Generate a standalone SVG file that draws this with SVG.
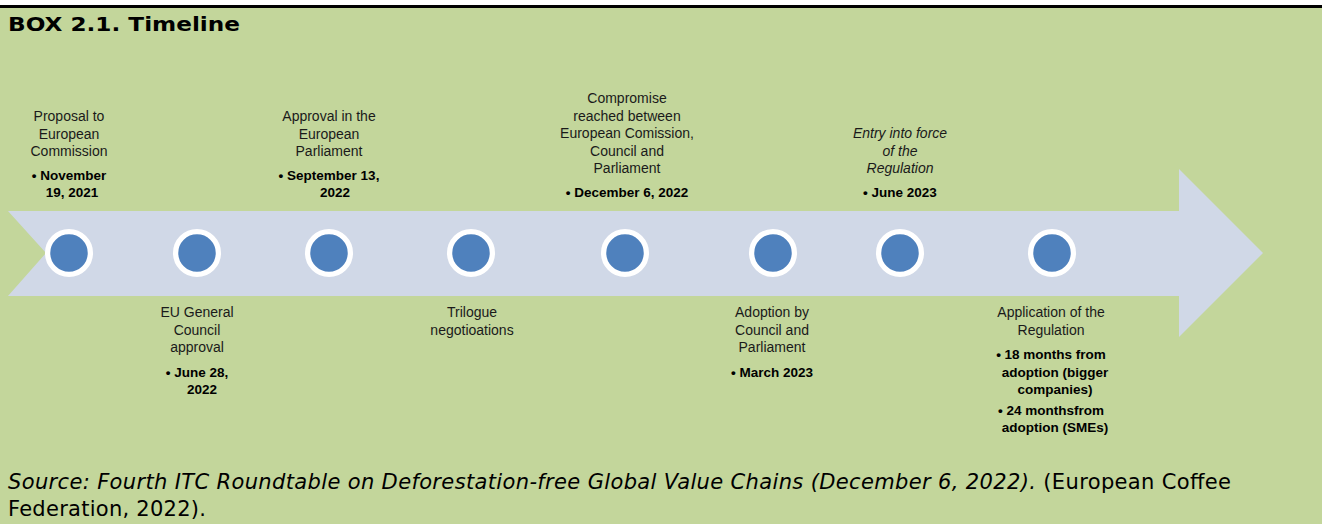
<svg xmlns="http://www.w3.org/2000/svg" width="1322" height="524" viewBox="0 0 1322 524">
  <style>
    .lbl { font-family: "Liberation Sans", Arial, sans-serif; font-size: 14px; fill: #1a1a1a; text-anchor: middle; }
    .b { font-weight: bold; fill: #000; font-size: 13.5px; }
    .i { font-style: italic; }
    .ring { fill: #4F81BD; stroke: #FFFFFF; stroke-width: 5.3; }
    .src { font-family: "DejaVu Sans", Verdana, sans-serif; font-size: 21px; fill: #000; }
  </style>

  <!-- box background and top rule -->
  <rect x="0" y="0" width="1322" height="524" fill="#FFFFFF"/>
  <rect x="0" y="7" width="1322" height="517" fill="#C3D69B"/>
  <rect x="0" y="5" width="1322" height="3" fill="#000000"/>

  <text x="8" y="31" font-family="'DejaVu Sans', Verdana, sans-serif" font-size="20" font-weight="bold" fill="#000" textLength="232" lengthAdjust="spacingAndGlyphs">BOX 2.1. Timeline</text>

  <!-- timeline arrow -->
  <g id="connectors">
    <polygon points="8,211 1179,211 1179,169 1263,253 1179,337 1179,296 8,296 46,253" fill="#D0D8E7"/>
  </g>

  <!-- milestones -->
  <g id="m1">
    <circle class="ring" cx="69" cy="253" r="21.4"/>
    <text class="lbl" x="69" y="121">Proposal to</text>
    <text class="lbl" x="69" y="138.5">European</text>
    <text class="lbl" x="69" y="156">Commission</text>
    <text class="lbl b" x="69" y="180">• November</text>
    <text class="lbl b" x="72" y="197">19, 2021</text>
  </g>
  <g id="m2">
    <circle class="ring" cx="197" cy="253" r="21.4"/>
    <text class="lbl" x="197" y="317">EU General</text>
    <text class="lbl" x="197" y="334.5">Council</text>
    <text class="lbl" x="197" y="352">approval</text>
    <text class="lbl b" x="197" y="377">• June 28,</text>
    <text class="lbl b" x="202" y="394">2022</text>
  </g>
  <g id="m3">
    <circle class="ring" cx="329" cy="253" r="21.4"/>
    <text class="lbl" x="329" y="121">Approval in the</text>
    <text class="lbl" x="329" y="138.5">European</text>
    <text class="lbl" x="329" y="156">Parliament</text>
    <text class="lbl b" x="329" y="180">• September 13,</text>
    <text class="lbl b" x="335" y="197">2022</text>
  </g>
  <g id="m4">
    <circle class="ring" cx="471" cy="253" r="21.4"/>
    <text class="lbl" x="472" y="317">Trilogue</text>
    <text class="lbl" x="472" y="334.5">negotioations</text>
  </g>
  <g id="m5">
    <circle class="ring" cx="625" cy="253" r="21.4"/>
    <text class="lbl" x="627" y="103">Compromise</text>
    <text class="lbl" x="627" y="120.5">reached between</text>
    <text class="lbl" x="627" y="138">European Comission,</text>
    <text class="lbl" x="627" y="155.5">Council and</text>
    <text class="lbl" x="627" y="173">Parliament</text>
    <text class="lbl b" x="627" y="197">• December 6, 2022</text>
  </g>
  <g id="m6">
    <circle class="ring" cx="773" cy="253" r="21.4"/>
    <text class="lbl" x="772" y="317">Adoption by</text>
    <text class="lbl" x="772" y="334.5">Council and</text>
    <text class="lbl" x="772" y="352">Parliament</text>
    <text class="lbl b" x="772" y="377">• March 2023</text>
  </g>
  <g id="m7">
    <circle class="ring" cx="900" cy="253" r="21.4"/>
    <text class="lbl i" x="900" y="138">Entry into force</text>
    <text class="lbl i" x="900" y="155.5">of the</text>
    <text class="lbl i" x="900" y="173">Regulation</text>
    <text class="lbl b" x="900" y="197">• June 2023</text>
  </g>
  <g id="m8">
    <circle class="ring" cx="1052" cy="253" r="21.4"/>
    <text class="lbl" x="1051" y="317">Application of the</text>
    <text class="lbl" x="1051" y="334.5">Regulation</text>
    <text class="lbl b" x="1051" y="359">• 18 months from</text>
    <text class="lbl b" x="1055" y="376.5">adoption (bigger</text>
    <text class="lbl b" x="1055" y="394">companies)</text>
    <text class="lbl b" x="1051" y="414.5">• 24 monthsfrom</text>
    <text class="lbl b" x="1055" y="432">adoption (SMEs)</text>
  </g>

  <!-- source note -->
  <text class="src" x="8" y="489" textLength="1223" lengthAdjust="spacing"><tspan font-style="italic">Source: Fourth ITC Roundtable on Deforestation-free Global Value Chains (December 6, 2022).</tspan> (European Coffee</text>
  <text class="src" x="8" y="516" textLength="198" lengthAdjust="spacing">Federation, 2022).</text>
</svg>
